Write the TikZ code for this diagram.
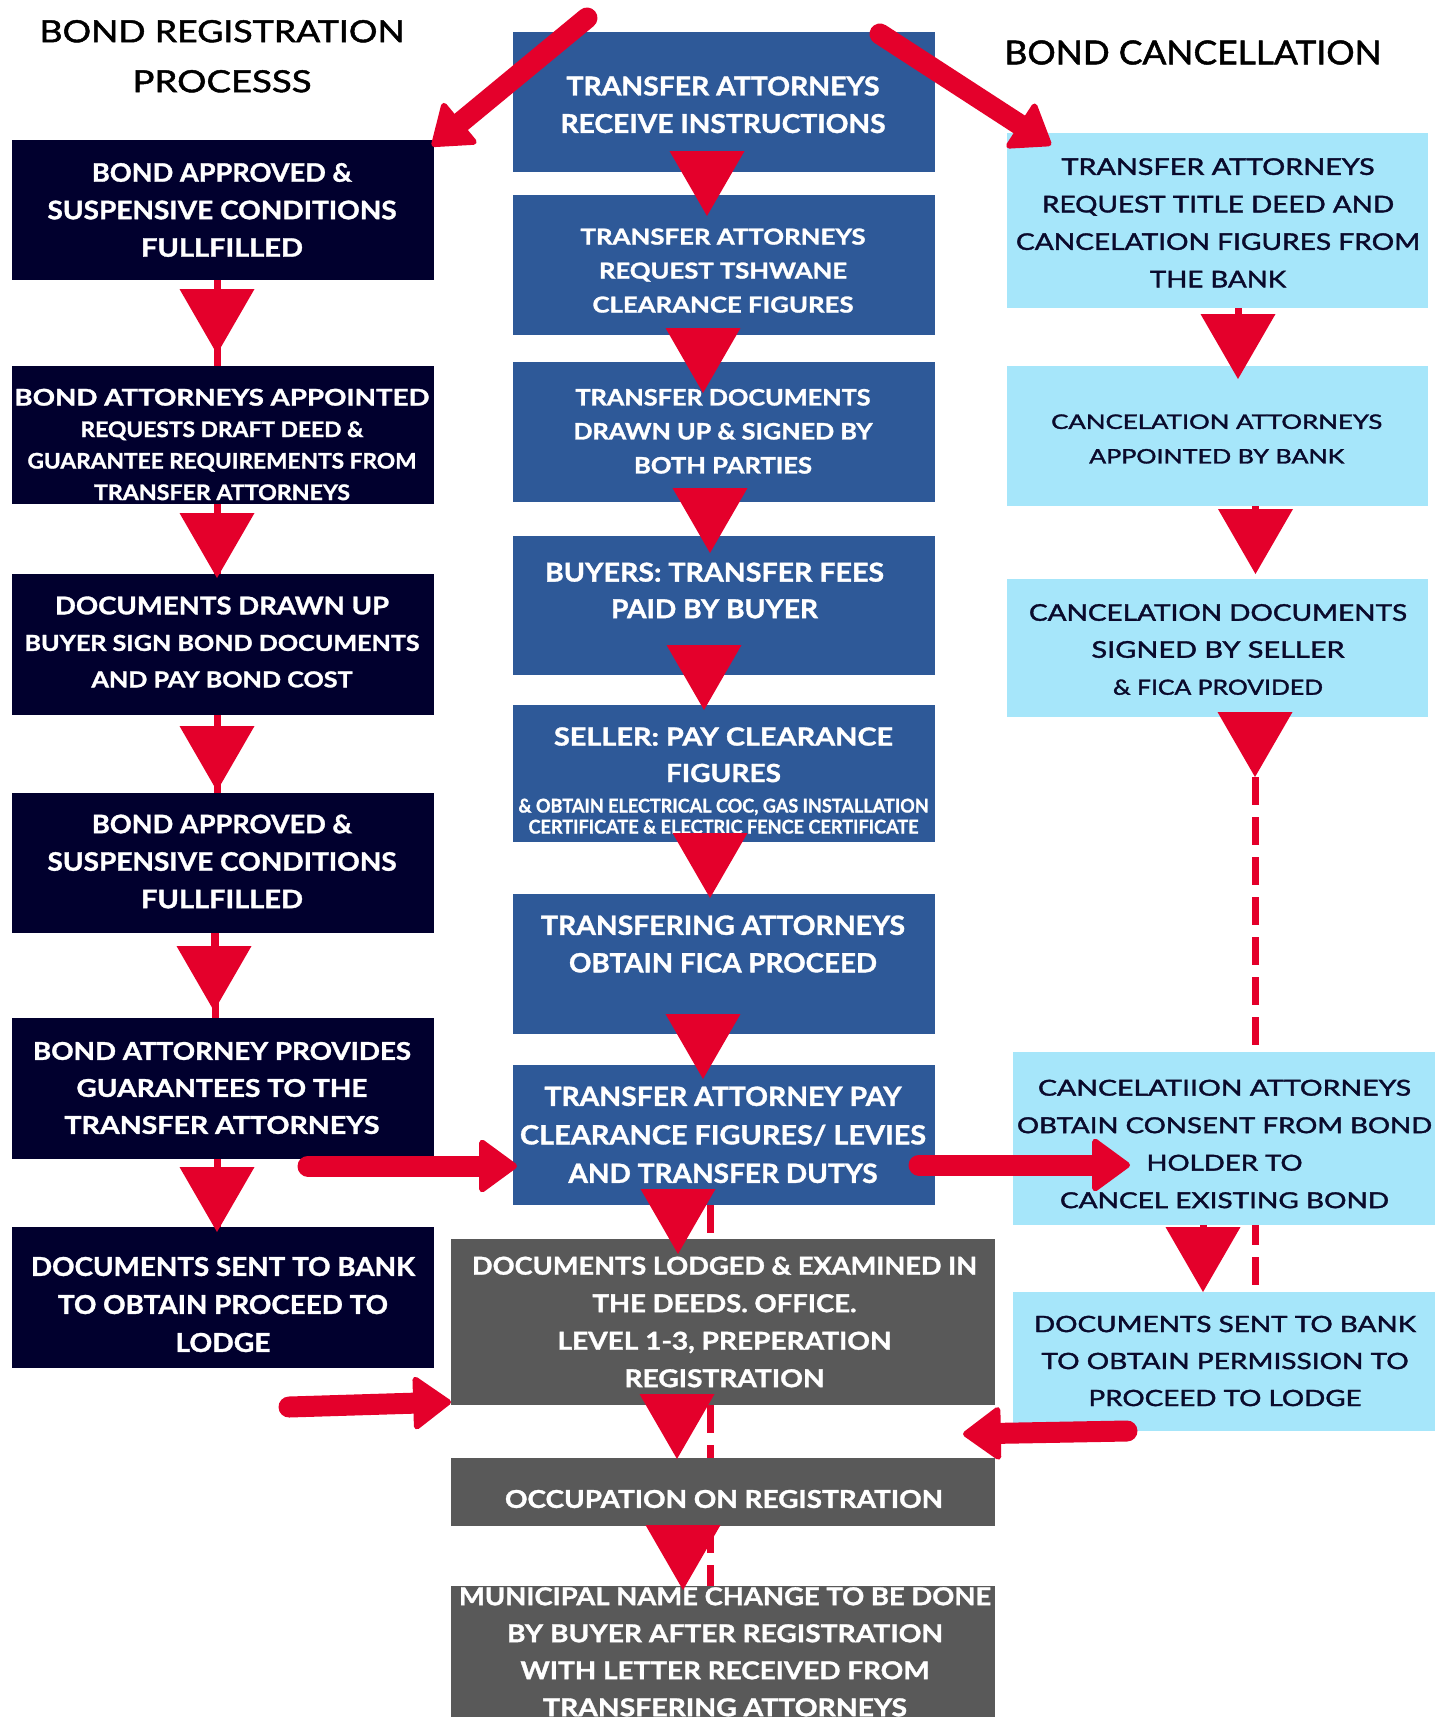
\documentclass[tikz,border=0pt]{standalone}
\usepackage{fontspec}
\setmainfont{Lato}[BoldFeatures={FakeBold=1.3}]
\newfontfamily\medfont{Lato}[FakeBold=1.5]
\usepackage{graphicx}
\usetikzlibrary{arrows.meta,backgrounds}
\definecolor{navy}{HTML}{01002E}
\definecolor{midblue}{HTML}{2E5998}
\definecolor{darkgray}{HTML}{595959}
\definecolor{lightblue}{HTML}{A6E6FA}
\definecolor{redc}{HTML}{E4002B}
\definecolor{navytext}{HTML}{0A0A2C}
\newcommand\txl[3]{\resizebox{#1pt}{\height}{\fontsize{#2}{#2}\selectfont #3}}
\tikzset{
  box/.style={inner sep=0pt, outer sep=0pt, minimum width=422pt, minimum height=140pt},
  navybox/.style={box, fill=navy},
  bluebox/.style={box, fill=midblue},
  graybox/.style={box, fill=darkgray, minimum width=544pt},
  lbbox/.style={box, fill=lightblue},
  wtext/.style={inner sep=0pt, align=center, text=white, font=\bfseries\fontsize{26}{37}\selectfont},
  ntext/.style={inner sep=0pt, align=center, text=navytext, font=\medfont\fontsize{23}{37}\selectfont},
  titletext/.style={inner sep=0pt, text=black, font=\medfont\fontsize{31}{31}\selectfont},
  stemline/.style={draw=redc, line width=7pt},
  tri/.style={draw=redc, line width=7pt, -{Triangle[length=65pt,width=75pt,line width=0pt]}},
  dashred/.style={draw=redc, line width=7pt, dash pattern=on 28pt off 12pt},
  bigarrow/.style={draw=redc, line width=21pt, line cap=round, -{Triangle[length=40pt,width=57pt,round,line width=6pt]}},
}
\begin{document}
\begin{tikzpicture}[x=1pt,y=-1pt]
\useasboundingbox (0,0) rectangle (1451,1717);
\clip (0,0) rectangle (1451,1717);

% ---------- titles
\node[titletext] (t1) at (222,31.3) {\txl{365}{30.5}{BOND REGISTRATION}};
\node[titletext] (t2) at (222,81.3) {\txl{179}{30.5}{PROCESSS}};
\node[titletext] (t3) at (1193,52.5) {\txl{377}{33}{BOND CANCELLATION}};

% ---------- left column boxes
\node[navybox, minimum height=140pt] (B1) at (223,210) {};
\node[navybox, minimum height=138pt] (B2) at (223,435) {};
\node[navybox, minimum height=141pt] (B3) at (223,644.5) {};
\node[navybox, minimum height=140pt] (B4) at (223,863) {};
\node[navybox, minimum height=141pt] (B5) at (223,1088.5) {};
\node[navybox, minimum height=141pt] (B6) at (223,1297.5) {};

% ---------- middle column boxes
\node[bluebox, minimum height=140pt] (M1) at (724,102) {};
\node[bluebox, minimum height=140pt] (M2) at (724,265) {};
\node[bluebox, minimum height=140pt] (M3) at (724,432) {};
\node[bluebox, minimum height=139pt] (M4) at (724,605.5) {};
\node[bluebox, minimum height=137pt] (M5) at (724,773.5) {};
\node[bluebox, minimum height=140pt] (M6) at (724,964) {};
\node[bluebox, minimum height=140pt] (M7) at (724,1135) {};
\node[graybox, minimum height=166pt] (G1) at (723,1322) {};
\node[graybox, minimum height=68pt] (G2) at (723,1492) {};
\node[graybox, minimum height=174pt] (G3) at (723,1673) {};

% ---------- right column boxes
\node[lbbox, minimum width=421pt, minimum height=175pt] (R1) at (1217.5,220.5) {};
\node[lbbox, minimum width=421pt, minimum height=140pt] (R2) at (1217.5,436) {};
\node[lbbox, minimum width=421pt, minimum height=138pt] (R3) at (1217.5,648) {};
\node[lbbox, minimum height=173pt] (R4) at (1224,1138.5) {};
\node[lbbox, minimum height=139pt] (R5) at (1224,1361.5) {};

% ---------- dashed links (behind the boxes)
\coordinate (r3tip) at (1255,777);
\begin{scope}[on background layer]
  \fill[white] (0,0) rectangle (1451,1717);
  \draw[dashred] ([xshift=-14pt]M7.south) -- ([xshift=-13pt]G3.north);
  \draw[dashred] (r3tip) -- ([xshift=31pt]R5.north);
\end{scope}

% ---------- left texts
\node[wtext, font=\bfseries\fontsize{26}{37.5}\selectfont] (B1t) at (222,210) {\txl{260}{25.5}{BOND APPROVED \&}\\\txl{349}{25.5}{SUSPENSIVE CONDITIONS}\\\txl{162}{25.5}{FULLFILLED}};
\node[wtext, font=\bfseries\fontsize{23}{31.5}\selectfont] (B2t) at (222,444.5) {\txl{415}{23}{BOND ATTORNEYS APPOINTED}\\\txl{283}{21.5}{REQUESTS DRAFT DEED \&}\\\txl{389}{21.5}{GUARANTEE REQUIREMENTS FROM}\\\txl{256}{21.5}{TRANSFER ATTORNEYS}};
\node[wtext, font=\bfseries\fontsize{24}{36.5}\selectfont] (B3t) at (222,642) {\txl{334}{24.5}{DOCUMENTS DRAWN UP}\\\txl{395}{22}{BUYER SIGN BOND DOCUMENTS}\\\txl{261}{22}{AND PAY BOND COST}};
\node[wtext, font=\bfseries\fontsize{26}{37.5}\selectfont] (B4t) at (222,861.5) {\txl{260}{25.5}{BOND APPROVED \&}\\\txl{349}{25.5}{SUSPENSIVE CONDITIONS}\\\txl{162}{25.5}{FULLFILLED}};
\node[wtext, font=\bfseries\fontsize{26}{37}\selectfont] (B5t) at (222,1088) {\txl{378}{24.5}{BOND ATTORNEY PROVIDES}\\\txl{291}{24.5}{GUARANTEES TO THE}\\\txl{315}{24.5}{TRANSFER ATTORNEYS}};
\node[wtext, font=\bfseries\fontsize{26}{38}\selectfont] (B6t) at (223,1304.5) {\txl{384}{26}{DOCUMENTS SENT TO BANK}\\\txl{330}{26}{TO OBTAIN PROCEED TO}\\\txl{95}{26}{LODGE}};

% ---------- middle texts
\node[wtext, font=\bfseries\fontsize{26}{37.5}\selectfont] (M1t) at (723,104.8) {\txl{313}{26}{TRANSFER ATTORNEYS}\\\txl{325}{26}{RECEIVE INSTRUCTIONS}};
\node[wtext, font=\bfseries\fontsize{22}{34}\selectfont] (M2t) at (723,270.6) {\txl{285}{22}{TRANSFER ATTORNEYS}\\\txl{248}{22}{REQUEST TSHWANE}\\\txl{261}{22}{CLEARANCE FIGURES}};
\node[wtext, font=\bfseries\fontsize{22}{34}\selectfont] (M3t) at (723,431.3) {\txl{295}{22.6}{TRANSFER DOCUMENTS}\\\txl{299}{22.6}{DRAWN UP \& SIGNED BY}\\\txl{178}{22.6}{BOTH PARTIES}};
\node[wtext, font=\bfseries\fontsize{26}{36.6}\selectfont] (M4t) at (714.5,590.5) {\txl{339}{26}{BUYERS: TRANSFER FEES}\\\txl{207}{26}{PAID BY BUYER}};
\node[wtext, font=\bfseries\fontsize{25}{36.5}\selectfont] (M5t) at (723.5,780.5) {\txl{339}{25}{SELLER: PAY CLEARANCE}\\\txl{115}{25}{FIGURES}\\[-6pt]\txl{410}{19}{\& OBTAIN ELECTRICAL COC, GAS INSTALLATION}\\[-15.5pt]\txl{390}{19}{CERTIFICATE \& ELECTRIC FENCE CERTIFICATE}};
\node[wtext, font=\bfseries\fontsize{26}{37.5}\selectfont] (M6t) at (723,944) {\txl{364}{26.5}{TRANSFERING ATTORNEYS}\\\txl{308}{26.5}{OBTAIN FICA PROCEED}};
\node[wtext, font=\bfseries\fontsize{26}{38.5}\selectfont] (M7t) at (723,1134.8) {\txl{357}{26.5}{TRANSFER ATTORNEY PAY}\\\txl{406}{26.5}{CLEARANCE FIGURES/ LEVIES}\\\txl{309}{26.5}{AND TRANSFER DUTYS}};
\node[wtext, font=\bfseries\fontsize{25}{37.5}\selectfont] (G1t) at (724.5,1322) {\txl{505}{24.6}{DOCUMENTS LODGED \& EXAMINED IN}\\\txl{264}{24.6}{THE DEEDS. OFFICE.}\\\txl{334}{24.6}{LEVEL 1-3, PREPERATION}\\\txl{200}{24.6}{REGISTRATION}};
\node[wtext] (G2t) at (724,1499) {\txl{438}{24.6}{OCCUPATION ON REGISTRATION}};
\node[wtext, anchor=north, font=\bfseries\fontsize{25}{37}\selectfont] (G3t) at ([xshift=2pt,yshift=-1pt]G3.north) {\txl{532}{24.6}{MUNICIPAL NAME CHANGE TO BE DONE}\\\txl{436}{24.6}{BY BUYER AFTER REGISTRATION}\\\txl{409}{24.6}{WITH LETTER RECEIVED FROM}\\\txl{364}{24.6}{TRANSFERING ATTORNEYS}};

% ---------- right texts
\node[ntext, font=\medfont\fontsize{23}{37.5}\selectfont] (R1t) at (1218,222.8) {\txl{313}{23}{TRANSFER ATTORNEYS}\\\txl{352}{23}{REQUEST TITLE DEED AND}\\\txl{404}{23}{CANCELATION FIGURES FROM}\\\txl{136}{23}{THE BANK}};
\node[ntext, font=\medfont\fontsize{20}{34.6}\selectfont] (R2t) at (1216.7,439) {\txl{331}{20}{CANCELATION ATTORNEYS}\\\txl{255}{20}{APPOINTED BY BANK}};
\node[ntext, font=\medfont\fontsize{23}{37}\selectfont] (R3t) at (1218,649.5) {\txl{378}{23}{CANCELATION DOCUMENTS}\\\txl{253}{23}{SIGNED BY SELLER}\\\txl{210}{21}{\& FICA PROVIDED}};
\node[ntext, font=\medfont\fontsize{22}{37.5}\selectfont] (R4t) at (1224.5,1144) {\txl{373}{22}{CANCELATIION ATTORNEYS}\\\txl{415}{22}{OBTAIN CONSENT FROM BOND}\\\txl{156}{22}{HOLDER TO}\\\txl{329}{22}{CANCEL EXISTING BOND}};
\node[ntext, font=\medfont\fontsize{22.5}{37}\selectfont] (R5t) at (1225,1361) {\txl{382}{22.5}{DOCUMENTS SENT TO BANK}\\\txl{367}{22.5}{TO OBTAIN PERMISSION TO}\\\txl{273}{22.5}{PROCEED TO LODGE}};

% ---------- left column connectors
\draw[stemline] ([xshift=-6pt]B1.south) -- ([xshift=-6pt]B2.north);
\draw[stemline] ([xshift=-6pt]B2.south) -- ([xshift=-6pt]B3.north);
\draw[stemline] ([xshift=-6pt]B3.south) -- ([xshift=-6pt]B4.north);
\draw[stemline] ([xshift=-8pt]B4.south) -- ([xshift=-8pt]B5.north);
\draw[stemline] ([xshift=-6pt]B5.south) -- ([xshift=-6pt]B6.north);
\draw[tri] ([xshift=-6pt]B1.south) -- ([xshift=-6pt,yshift=12pt]B2.north);
\draw[tri] ([xshift=-6pt]B2.south) -- ([xshift=-6pt,yshift=-4pt]B3.north);
\draw[tri] ([xshift=-6pt]B3.south) -- ([xshift=-6pt,yshift=2pt]B4.north);
\draw[tri] ([xshift=-9pt]B4.south) -- ([xshift=-9pt,yshift=7pt]B5.north);
\draw[tri] ([xshift=-6pt]B5.south) -- ([xshift=-6pt,yshift=-5pt]B6.north);

% ---------- middle column connectors
\draw[tri] ([xshift=-17pt]M1.south) -- ([xshift=-17pt,yshift=-21pt]M2.north);
\draw[tri] ([xshift=-21pt]M2.south) -- ([xshift=-21pt,yshift=-31pt]M3.north);
\draw[tri] ([xshift=-14pt]M3.south) -- ([xshift=-14pt,yshift=-17pt]M4.north);
\draw[tri] ([xshift=-20pt]M4.south) -- ([xshift=-20pt,yshift=-5pt]M5.north);
\draw[tri] ([xshift=-14pt]M5.south) -- ([xshift=-14pt,yshift=-4pt]M6.north);
\draw[tri] ([xshift=-21pt]M6.south) -- ([xshift=-21pt,yshift=-14pt]M7.north);
\draw[tri] ([xshift=-46pt]M7.south) -- ([xshift=-45pt,yshift=-15pt]G1.north);
\draw[tri] ([xshift=-46pt]G1.south) -- ([xshift=-46pt,yshift=-1pt]G2.north);
\draw[tri] ([xshift=-40pt]G2.south) -- ([xshift=-40pt,yshift=-4pt]G3.north);

% ---------- right column connectors
\draw[tri] ([xshift=20.5pt]R1.south) -- ([xshift=20.5pt,yshift=-13pt]R2.north);
\draw[tri] ([xshift=38pt]R2.south) -- ([xshift=38pt,yshift=5pt]R3.north);
\draw[tri] ([xshift=37.5pt]R3.south) -- (r3tip);
\draw[tri] ([xshift=-21pt]R4.south) -- ([xshift=-21pt]R5.north);

% ---------- big arrows
\coordinate (tl) at (587,18);
\coordinate (tr) at (880,34);
\coordinate (fl) at (289,1407);
\draw[bigarrow] (tl) -- ([xshift=-2pt,yshift=-6pt]B1.north east);
\draw[bigarrow] (tr) -- ([xshift=44pt,yshift=-12pt]R1.north west);
\draw[bigarrow] ([xshift=-126pt,yshift=-7pt]B5.south east) -- ([xshift=4pt,yshift=-31pt]M7.west);
\draw[bigarrow] (fl) -- ([yshift=3pt]G1.south west);
\draw[bigarrow] ([xshift=-16pt,yshift=-30pt]M7.east) -- ([xshift=117pt,yshift=-26.5pt]R4.west);
\draw[bigarrow] ([xshift=114pt]R5.south west) -- ([xshift=-32pt,yshift=-29pt]G1.south east);
\end{tikzpicture}
\end{document}
